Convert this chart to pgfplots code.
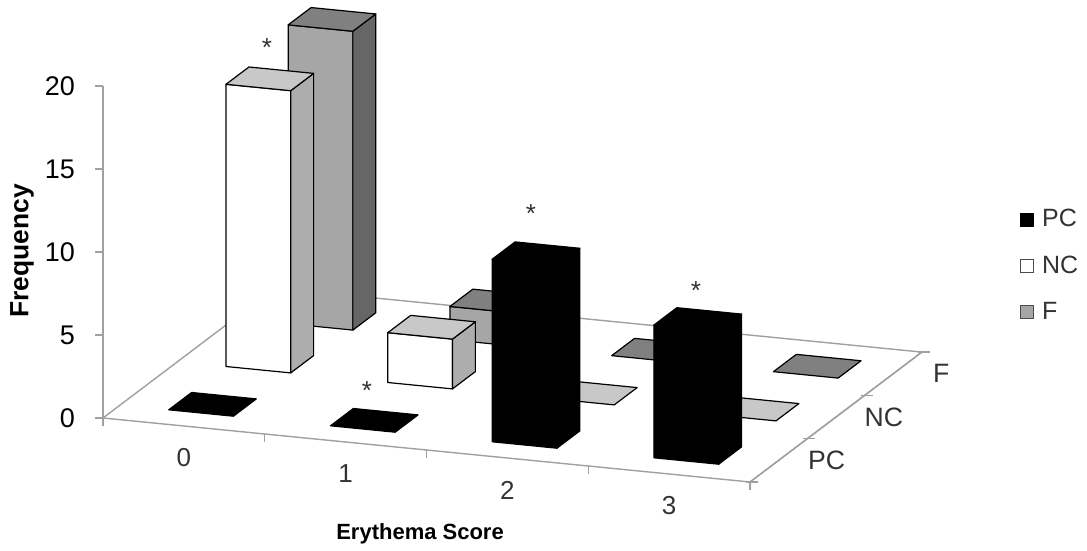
\documentclass[border=0pt]{standalone}
\usepackage{pgfplots}
\usepackage{fontspec}
\setmainfont{Liberation Sans}
\pgfplotsset{compat=1.18}
\definecolor{axisg}{HTML}{A0A0A0}
\definecolor{Ftop}{HTML}{808080}
\definecolor{Ffront}{HTML}{A6A6A6}
\definecolor{Fside}{HTML}{666666}
\definecolor{Ntop}{HTML}{C8C8C8}
\definecolor{Nside}{HTML}{ADADAD}
% bar: x-cell, y-cell, value, top, front, side
\newcommand{\onebar}[6]{%
  \pgfmathsetmacro{\xa}{#1+0.3}\pgfmathsetmacro{\xb}{#1+0.7}%
  \pgfmathsetmacro{\ya}{#2+0.3}\pgfmathsetmacro{\yb}{#2+0.7}%
  \addplot3[fill=#5,draw=black,line width=.6pt,line join=round,forget plot] coordinates {(\xa,\ya,0) (\xb,\ya,0) (\xb,\ya,#3) (\xa,\ya,#3)} -- cycle;
  \addplot3[fill=#6,draw=black,line width=.6pt,line join=round,forget plot] coordinates {(\xb,\ya,0) (\xb,\yb,0) (\xb,\yb,#3) (\xb,\ya,#3)} -- cycle;
  \addplot3[fill=#4,draw=black,line width=.6pt,line join=round,forget plot] coordinates {(\xa,\ya,#3) (\xb,\ya,#3) (\xb,\yb,#3) (\xa,\yb,#3)} -- cycle;
}
\newcommand{\flatbar}[3]{%
  \pgfmathsetmacro{\xa}{#1+0.3}\pgfmathsetmacro{\xb}{#1+0.7}%
  \pgfmathsetmacro{\ya}{#2+0.3}\pgfmathsetmacro{\yb}{#2+0.7}%
  \addplot3[fill=#3,draw=black,line width=.6pt,line join=round,forget plot] coordinates {(\xa,\ya,0) (\xb,\ya,0) (\xb,\yb,0) (\xa,\yb,0)} -- cycle;
}
\begin{document}
\begin{tikzpicture}
\useasboundingbox (0,0) rectangle (543.5pt,275.5pt);
\begin{axis}[
  at={(51.5pt,66.5pt)}, anchor=origin,
  x={(80.875pt,-8pt)}, y={(28.65pt,21.65pt)}, z={(0pt,8.3pt)},
  xmin=0,xmax=4,ymin=0,ymax=3,zmin=0,zmax=20,
  clip=false,
  axis x line=bottom, axis y line=left, axis z line=left,
  axis line style={draw=axisg,line width=.7pt,-},
  major tick length=0pt,
  xtick={0.5,1.5,2.5,3.5}, xticklabels={0,1,2,3},
  ytick={0.5,1.5,2.5}, yticklabels={PC,NC,F},
  ztick={0,5,10,15,20},
  /pgf/number format/assume math mode=true,
  xticklabel style={font=\fontsize{13}{15}\selectfont,text=black!80,anchor=center,xshift=0pt,yshift=-16pt},
  yticklabel style={font=\fontsize{13.3}{15}\selectfont,text=black!80,anchor=center,xshift=24pt,yshift=0pt},
  zticklabel style={font=\fontsize{13.5}{15}\selectfont,text=black,anchor=east,xshift=-10.5pt},
  xlabel={\textbf{Erythema Score}},
  ylabel={},
  zlabel={\textbf{Frequency}},
  every axis x label/.style={at={(axis cs:2.558,-1.6875,0)},anchor=center,yshift=-1pt,font=\fontsize{11}{13}\selectfont},
  every axis z label/.style={at={(axis cs:-0.5,0,9.46)},anchor=center,rotate=90,xshift=1pt,font=\fontsize{13.2}{15}\selectfont},
  legend cell align=left,
  legend style={draw=none,fill=none,at={(axis cs:5.669,0,18.3)},anchor=north west,inner sep=0pt,font=\fontsize{12.5}{14}\selectfont,/tikz/row sep=9pt,/tikz/column sep=2pt,text=black!80},
  legend image code/.code={\draw[#1] (0pt,-3.25pt) rectangle (6.5pt,3.25pt);},
]
\addlegendimage{fill=black,draw=black}
\addlegendentry{PC}
\addlegendimage{fill=white,draw=black!70}
\addlegendentry{NC}
\addlegendimage{fill=Ffront,draw=black!70}
\addlegendentry{F}
% edges of floor
\addplot3[draw=axisg,line width=.7pt,forget plot] coordinates {(0,0,0) (0,3,0) (4,3,0) (4,0,0)};
% ticks
\pgfplotsinvokeforeach{0,1,2,3,4}{\draw[axisg,line width=.7pt] (axis cs:#1,0,0) -- ++(0pt,-4pt);}
\pgfplotsinvokeforeach{0,1,2,3}{\draw[axisg,line width=.7pt] (axis cs:4,#1,0) ++(-2pt,0pt) -- ++(6pt,0pt);}
\pgfplotsinvokeforeach{0,5,10,15,20}{\draw[axisg,line width=.7pt] (axis cs:0,0,#1) -- ++(-4pt,0pt);}
% F series
\onebar{0.03}{2}{18}{Ftop}{Ffront}{Fside}
\onebar{1.03}{2}{2}{Ftop}{Ffront}{Fside}
\flatbar{2.03}{2}{Ftop}
\flatbar{3.03}{2}{Ftop}
% NC series
\onebar{0}{1}{17}{Ntop}{white}{Nside}
\onebar{1}{1}{3}{Ntop}{white}{Nside}
\flatbar{2}{1}{Ntop}
\flatbar{3}{1}{Ntop}
% PC series
\flatbar{0}{0}{black}
\flatbar{1}{0}{black}
\onebar{2}{0}{11}{black}{black}{black}
\onebar{3}{0}{8}{black}{black}{black}
% significance marks
\node[font=\fontsize{13}{15}\selectfont,inner sep=0pt,text=black!80,yshift=-1.5pt] at (axis cs:1.014,0,23.5) {*};
\node[font=\fontsize{13}{15}\selectfont,inner sep=0pt,text=black!80,yshift=-1.5pt] at (axis cs:1.632,0,3.38) {*};
\node[font=\fontsize{13}{15}\selectfont,inner sep=0pt,text=black!80,yshift=-1.5pt] at (axis cs:2.646,0,15.02) {*};
\node[font=\fontsize{13}{15}\selectfont,inner sep=0pt,text=black!80,yshift=-1.5pt] at (axis cs:3.666,0,11.37) {*};
\end{axis}
\end{tikzpicture}
\end{document}
